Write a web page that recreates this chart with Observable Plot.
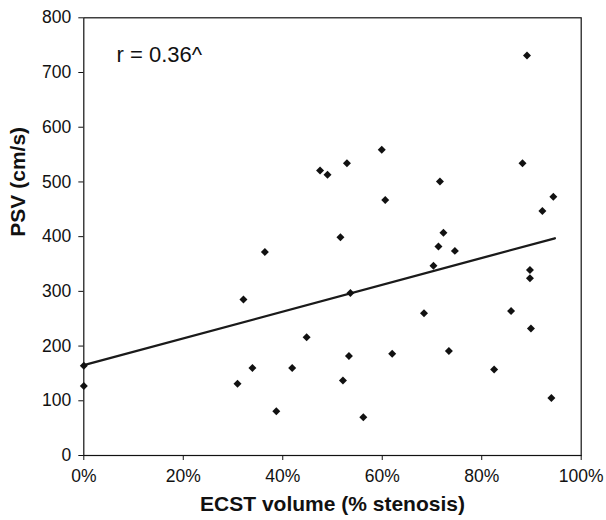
<!DOCTYPE html>
<html>
<head>
<meta charset="utf-8">
<script src="https://cdn.jsdelivr.net/npm/d3@7"></script>
<script src="https://cdn.jsdelivr.net/npm/@observablehq/plot@0.6"></script>
<style>
  html, body { margin: 0; padding: 0; background: #fff; }
  svg { display: block; }
</style>
</head>
<body>
<div id="chart"></div>
<script>
// ECST volume (% stenosis)
const stenosis = [0, 0, 30.9, 32.1, 33.9, 36.4, 38.7, 41.9, 44.8, 47.5, 49.0, 51.6, 52.1, 52.9, 53.3, 53.6, 56.2, 59.9, 60.6, 62.0, 68.4, 70.3, 71.3, 71.6, 72.3, 73.4, 74.6, 82.5, 85.9, 88.2, 89.1, 89.7, 89.7, 89.9, 92.2, 94.0, 94.4];
// PSV (cm/s)
const psv = [164, 127, 131, 285, 160, 372, 81, 160, 216, 521, 513, 399, 137, 534, 182, 297, 70, 559, 467, 186, 260, 347, 382, 501, 407, 191, 374, 157, 264, 534, 731, 339, 324, 232, 447, 105, 473];
// trend line end points
const trendX = [0, 94.7];
const trendY = [165, 397];
const xTicks = [0, 20, 40, 60, 80, 100];
const yTicks = [0, 100, 200, 300, 400, 500, 600, 700, 800];
const annotation = "r = 0.36^";
const xTitle = "ECST volume (% stenosis)";
const yTitle = "PSV (cm/s)";

const points = stenosis.map((x, i) => ({x, y: psv[i]}));
const trend = trendX.map((x, i) => ({x, y: trendY[i]}));

const font = "'Liberation Sans', Arial, Helvetica, sans-serif";

const chart = Plot.plot({
  width: 606,
  height: 520,
  marginLeft: 83.3,
  marginRight: 25.3,
  marginTop: 17.3,
  marginBottom: 65,
  style: {fontFamily: font, background: "#fff", color: "#111"},
  x: {domain: [0, 100]},
  y: {domain: [0, 800]},
  marks: [
    Plot.axisX({ticks: xTicks, tickFormat: d => d + "%", tickSize: 5, tickPadding: 9, fontSize: 17.5, label: null, stroke: "#111"}),
    Plot.axisY({ticks: yTicks, tickFormat: d => String(d), tickSize: 5, tickPadding: 7.5, fontSize: 17.5, label: null, stroke: "#111"}),
    Plot.frame({stroke: "#111", strokeWidth: 1.2}),
    Plot.line(trend, {x: "x", y: "y", stroke: "#1a1a1a", strokeWidth: 2.3}),
    Plot.dot(points, {x: "x", y: "y", symbol: "diamond2", r: 3.6, fill: "#111", stroke: "none"}),
    Plot.text([annotation], {text: d => d, frameAnchor: "top-left", textAnchor: "start", lineAnchor: "top", dx: 32.7, dy: 28.8, fontSize: 22, fill: "#111"}),
    Plot.text([xTitle], {text: d => d, frameAnchor: "bottom", lineAnchor: "middle", dy: 48.3, fontSize: 21, fontWeight: "bold", fill: "#111"}),
    Plot.text([yTitle], {text: d => d, frameAnchor: "left", lineAnchor: "middle", rotate: -90, dx: -66, fontSize: 21, fontWeight: "bold", fill: "#111"})
  ]
});
document.getElementById("chart").append(chart);
</script>
</body>
</html>
